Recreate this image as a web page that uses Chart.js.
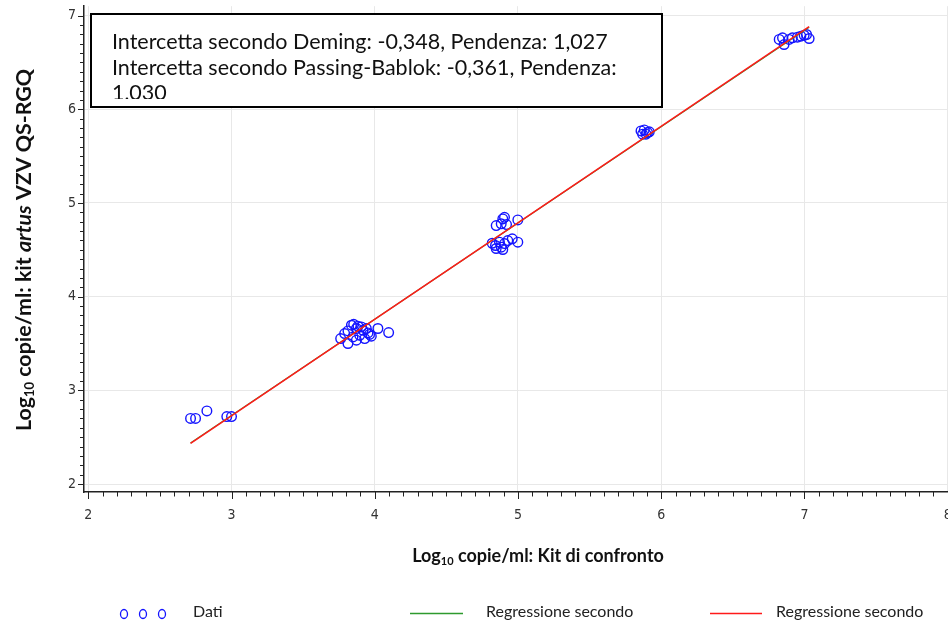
<!DOCTYPE html>
<html>
<head>
<meta charset="utf-8">
<script src="https://cdn.jsdelivr.net/npm/chart.js@4.4.0/dist/chart.umd.min.js"></script>
<style>
  html, body { margin: 0; padding: 0; background: #fff; overflow: hidden; width: 948px; height: 624px; }
  #wrap { position: relative; width: 961px; height: 624px; }
</style>
</head>
<body>
<div id="wrap"><canvas id="c" width="961" height="624"></canvas></div>
<script>
// Log10 copies/ml measured with the comparison kit (x) and the artus VZV QS-RGQ kit (y)
const kitConfronto = [
  2.714, 2.749, 2.828, 2.967, 3.000,
  3.762, 3.790, 3.813, 3.837, 3.853, 3.872, 3.883, 3.907, 3.918, 3.941,
  3.953, 3.976, 3.930, 3.872, 3.813, 4.022, 4.097, 3.895, 3.848, 3.964,
  4.848, 4.883, 4.894, 4.906, 4.920, 4.999,
  4.820, 4.843, 4.871, 4.883, 4.906, 4.929, 4.960, 4.999, 4.848, 4.894,
  5.859, 5.882, 5.905, 5.870, 5.894, 5.917,
  6.824, 6.847, 6.858, 6.893, 6.916, 6.951, 6.975, 6.998, 7.033, 7.015
];
const kitArtus = [
  2.700, 2.700, 2.780, 2.720, 2.720,
  3.553, 3.606, 3.634, 3.695, 3.705, 3.660, 3.684, 3.677, 3.641, 3.660,
  3.613, 3.578, 3.553, 3.535, 3.500, 3.660, 3.617, 3.588, 3.570, 3.597,
  4.759, 4.777, 4.830, 4.847, 4.769, 4.819,
  4.570, 4.546, 4.581, 4.528, 4.567, 4.599, 4.617, 4.581, 4.514, 4.503,
  5.769, 5.780, 5.751, 5.734, 5.734, 5.759,
  6.745, 6.762, 6.691, 6.745, 6.762, 6.769, 6.780, 6.790, 6.755, 6.798
];

// Regression estimates
const demingIntercept = -0.348;
const demingSlope = 1.027;
const pbIntercept = -0.361;
const pbSlope = 1.030;

// Axis tick labels
const xTickValues = [2, 3, 4, 5, 6, 7, 8];
const yTickValues = [2, 3, 4, 5, 6, 7];

const legendLabels = ['Dati', 'Regressione secondo', 'Regressione secondo'];

const fmt = v => v.toFixed(3).replace('.', ',');
const infoLines = [
  'Intercetta secondo Deming: ' + fmt(demingIntercept) + ', Pendenza: ' + fmt(demingSlope),
  'Intercetta secondo Passing-Bablok: ' + fmt(pbIntercept) + ', Pendenza:',
  fmt(pbSlope)
];

const xMinData = Math.min(...kitConfronto);
const xMaxData = Math.max(...kitConfronto);
const fitLine = (a, b) => [xMinData, xMaxData].map(x => ({ x: x, y: a + b * x }));

const points = kitConfronto.map((x, i) => ({ x: x, y: kitArtus[i] }));

const BLUE = '#1414ff';
const GREEN = '#2e9a2e';
const RED = '#ff1a1a';
const TEXT_FONT = 'Lato, "Open Sans", sans-serif';
const TICK_FONT = '"DejaVu Sans Condensed", "Liberation Sans Narrow", "DejaVu Sans", sans-serif';

function richText(ctx, parts, cx, y) {
  let total = 0;
  parts.forEach(p => { ctx.font = p.font; total += ctx.measureText(p.text).width; });
  let x = cx - total / 2;
  parts.forEach(p => {
    ctx.font = p.font;
    ctx.fillText(p.text, x, y + (p.dy || 0));
    x += ctx.measureText(p.text).width;
  });
}

const decor = {
  id: 'decor',
  afterDraw(chart) {
    const ctx = chart.ctx;
    const xs = chart.scales.x, ys = chart.scales.y, ca = chart.chartArea;
    ctx.save();

    // major and minor tick marks
    ctx.strokeStyle = '#222';
    ctx.lineWidth = 1;
    ctx.beginPath();
    for (let i = 0; i <= 60; i++) {
      const v = 2 + i / 10;
      const px = Math.round(xs.getPixelForValue(v)) + 0.5;
      const len = (i % 10 === 0) ? 7 : 4.5;
      ctx.moveTo(px, ca.bottom);
      ctx.lineTo(px, ca.bottom + len);
    }
    for (let i = 0; i <= 50; i++) {
      const v = 2 + i / 10;
      const py = Math.round(ys.getPixelForValue(v)) + 0.5;
      const len = (i % 10 === 0) ? 6 : 4;
      ctx.moveTo(ca.left, py);
      ctx.lineTo(ca.left - len, py);
    }
    ctx.stroke();

    // estimates box
    const bx = 91, by = 14, bw = 571, bh = 93;
    ctx.fillStyle = '#fff';
    ctx.fillRect(bx, by, bw, bh);
    ctx.save();
    ctx.beginPath();
    ctx.rect(bx, by, bw, 85);
    ctx.clip();
    ctx.fillStyle = '#111';
    ctx.font = '21.5px ' + TEXT_FONT;
    ctx.textBaseline = 'alphabetic';
    ctx.textAlign = 'left';
    infoLines.forEach((t, i) => ctx.fillText(t, 112, 49 + i * 25.5));
    ctx.restore();
    ctx.strokeStyle = '#000';
    ctx.lineWidth = 2;
    ctx.strokeRect(bx, by, bw, bh);

    // axis titles
    ctx.fillStyle = '#111';
    ctx.textAlign = 'left';
    ctx.textBaseline = 'alphabetic';
    const B = 'bold 18px ' + TEXT_FONT;
    const S = 'bold 11px ' + TEXT_FONT;
    richText(ctx, [
      { text: 'Log', font: B },
      { text: '10', font: S, dy: 3 },
      { text: ' copie/ml: Kit di confronto', font: B }
    ], 538, 562);

    const BY = 'bold 21.4px ' + TEXT_FONT;
    const SY = 'bold 13px ' + TEXT_FONT;
    ctx.save();
    ctx.translate(31, 250);
    ctx.rotate(-Math.PI / 2);
    richText(ctx, [
      { text: 'Log', font: BY },
      { text: '10', font: SY, dy: 3 },
      { text: ' copie/ml: kit ', font: BY },
      { text: 'artus', font: 'italic bold 21.4px ' + TEXT_FONT },
      { text: ' VZV QS-RGQ', font: BY }
    ], 0, 0);
    ctx.restore();

    // legend
    const ly = 614;
    ctx.strokeStyle = BLUE;
    ctx.lineWidth = 1.3;
    [124, 143, 162].forEach(cx => {
      ctx.beginPath();
      ctx.ellipse(cx, ly, 3.5, 4.5, 0, 0, Math.PI * 2);
      ctx.stroke();
    });
    ctx.lineWidth = 1.5;
    ctx.strokeStyle = GREEN;
    ctx.beginPath(); ctx.moveTo(410, 613.5); ctx.lineTo(463, 613.5); ctx.stroke();
    ctx.strokeStyle = RED;
    ctx.beginPath(); ctx.moveTo(710, 613.5); ctx.lineTo(762, 613.5); ctx.stroke();
    ctx.fillStyle = '#222';
    ctx.font = '16px ' + TEXT_FONT;
    ctx.textBaseline = 'middle';
    ctx.fillText(legendLabels[0], 193, 612);
    ctx.fillText(legendLabels[1], 486, 612);
    ctx.fillText(legendLabels[2], 776, 612);

    ctx.restore();
  }
};

new Chart(document.getElementById('c'), {
  type: 'scatter',
  data: {
    datasets: [
      {
        type: 'line',
        label: 'Passing-Bablok',
        data: fitLine(pbIntercept, pbSlope),
        borderColor: RED,
        borderWidth: 1.5,
        pointRadius: 0,
        fill: false,
        order: 0
      },
      {
        type: 'line',
        label: 'Deming',
        data: fitLine(demingIntercept, demingSlope),
        borderColor: GREEN,
        borderWidth: 1.2,
        pointRadius: 0,
        fill: false,
        order: 1
      },
      {
        label: legendLabels[0],
        data: points,
        pointStyle: 'circle',
        pointRadius: 4.8,
        pointBorderWidth: 1.4,
        pointBorderColor: BLUE,
        pointBackgroundColor: 'rgba(0,0,0,0)',
        order: 2
      }
    ]
  },
  options: {
    responsive: false,
    animation: false,
    devicePixelRatio: 1,
    layout: { padding: { top: 5, left: 0, right: 0, bottom: 0 } },
    plugins: { legend: { display: false }, tooltip: { enabled: false } },
    scales: {
      x: {
        type: 'linear',
        min: 1.97,
        max: 8.05,
        afterBuildTicks: s => { s.ticks = xTickValues.map(v => ({ value: v })); },
        afterFit: s => { s.height = 132; s.paddingLeft = 0; s.paddingRight = 0; },
        grid: { color: '#e8e8e8', lineWidth: 1, drawTicks: false },
        border: { display: true, color: '#222', width: 1.5 },
        ticks: {
          padding: 15,
          color: '#333',
          font: { family: TICK_FONT, size: 14 },
          maxRotation: 0,
          autoSkip: false,
          callback: v => String(v)
        }
      },
      y: {
        type: 'linear',
        min: 1.915,
        max: 7.1,
        afterBuildTicks: s => { s.ticks = yTickValues.map(v => ({ value: v })); },
        afterFit: s => { s.width = 84; s.paddingTop = 0; s.paddingBottom = 0; },
        grid: { color: '#e8e8e8', lineWidth: 1, drawTicks: false },
        border: { display: true, color: '#222', width: 1.5 },
        ticks: {
          padding: 8,
          color: '#333',
          font: { family: TICK_FONT, size: 14 },
          autoSkip: false,
          callback: v => String(v)
        }
      }
    }
  },
  plugins: [decor]
});
</script>
</body>
</html>
